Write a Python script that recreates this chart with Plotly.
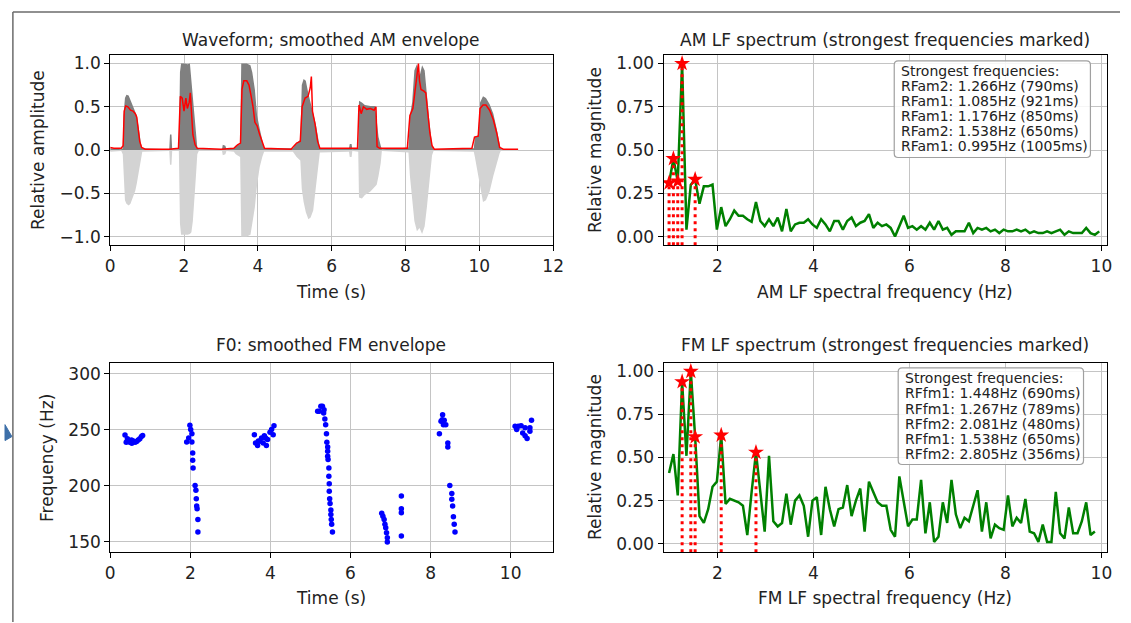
import numpy as np
import plotly.graph_objects as go

W, H = 1131, 623
FONT = "DejaVu Sans"

# ---------------- data ----------------
# waveform envelope breakpoints (time s, positive peak, negative peak)
WAVE_T = [0.00, 0.30, 0.34, 0.36, 0.40, 0.44, 0.50, 0.55, 0.62, 0.68, 0.72, 0.78, 0.83, 0.87,
          1.60, 1.62, 1.66, 1.68, 1.86, 1.89, 1.92, 2.00, 2.10, 2.16, 2.20, 2.24, 2.28, 2.32, 2.36, 2.40,
          3.03, 3.05, 3.12, 3.15, 3.35, 3.40, 3.52, 3.55, 3.70, 3.80, 3.85, 3.92, 3.98, 4.05, 4.12, 4.17,
          4.95, 5.05, 5.15, 5.19, 5.24, 5.30, 5.37, 5.43, 5.50, 5.57, 5.63, 5.68,
          6.47, 6.49, 6.54, 6.56, 6.72, 6.74, 6.82, 6.90, 7.05, 7.18, 7.22, 7.27, 7.33, 7.36,
          7.85, 8.08, 8.12, 8.18, 8.24, 8.31, 8.38, 8.45, 8.52, 8.58, 8.65, 8.72, 8.76,
          9.85, 9.88, 9.97, 10.02, 10.10, 10.18, 10.28, 10.38, 10.47, 10.55, 10.58, 11.05]
WAVE_POS = [0.02, 0.01, 0.02, 0.40, 0.60, 0.64, 0.63, 0.58, 0.51, 0.45, 0.40, 0.24, 0.08, 0.02,
            0.01, 0.18, 0.18, 0.01, 0.01, 0.90, 1.00, 1.00, 0.99, 1.00, 0.80, 0.55, 0.35, 0.20, 0.03, 0.01,
            0.01, 0.06, 0.05, 0.01, 0.02, 0.05, 0.07, 1.00, 1.00, 0.98, 0.90, 0.70, 0.40, 0.25, 0.10, 0.02,
            0.02, 0.08, 0.12, 0.75, 0.82, 0.80, 0.65, 0.55, 0.45, 0.30, 0.15, 0.02,
            0.02, 0.07, 0.07, 0.01, 0.02, 0.57, 0.55, 0.52, 0.51, 0.51, 0.35, 0.15, 0.05, 0.01,
            0.02, 0.03, 0.40, 0.55, 0.92, 0.99, 0.85, 0.98, 0.92, 0.62, 0.32, 0.06, 0.01,
            0.02, 0.15, 0.17, 0.55, 0.62, 0.60, 0.53, 0.42, 0.25, 0.05, 0.01, 0.01]
WAVE_NEG = [-0.02, -0.01, -0.05, -0.30, -0.58, -0.62, -0.64, -0.62, -0.55, -0.47, -0.39, -0.22, -0.08, -0.02,
            -0.01, -0.17, -0.17, -0.01, -0.01, -0.85, -0.98, -0.98, -0.98, -0.97, -0.95, -0.82, -0.62, -0.32, -0.05, -0.01,
            -0.01, -0.06, -0.05, -0.01, -0.02, -0.05, -0.08, -1.00, -1.00, -0.98, -0.85, -0.66, -0.40, -0.20, -0.08, -0.02,
            -0.02, -0.08, -0.12, -0.45, -0.60, -0.72, -0.80, -0.78, -0.70, -0.45, -0.20, -0.03,
            -0.02, -0.08, -0.08, -0.01, -0.02, -0.55, -0.56, -0.52, -0.48, -0.42, -0.40, -0.30, -0.15, -0.01,
            -0.02, -0.03, -0.30, -0.60, -0.82, -0.94, -0.90, -0.97, -0.88, -0.66, -0.32, -0.06, -0.01,
            -0.02, -0.08, -0.30, -0.45, -0.60, -0.58, -0.48, -0.30, -0.15, -0.04, -0.01, -0.01]

# smoothed AM envelope
ENV_T = [0.00, 0.10, 0.30, 0.35, 0.38, 0.42, 0.48, 0.55, 0.62, 0.68, 0.72, 0.76, 0.80, 0.85, 0.95,
         1.60, 1.85, 1.90, 1.95, 2.00, 2.05, 2.09, 2.14, 2.17, 2.20, 2.24, 2.30, 2.36,
         3.00, 3.35, 3.45, 3.53, 3.57, 3.62, 3.70, 3.76, 3.82, 3.87, 3.92, 3.98, 4.05, 4.12, 4.18,
         4.90, 5.05, 5.15, 5.20, 5.28, 5.36, 5.42, 5.45, 5.48, 5.55, 5.62, 5.68,
         6.70, 6.74, 6.80, 6.86, 6.95, 7.05, 7.15, 7.20, 7.23, 7.30,
         8.05, 8.12, 8.20, 8.26, 8.32, 8.35, 8.38, 8.42, 8.50, 8.55, 8.60, 8.66, 8.72, 8.78,
         9.80, 9.87, 9.97, 10.02, 10.10, 10.18, 10.28, 10.38, 10.47, 10.55, 10.65, 11.05]
ENV_V = [0.03, 0.02, 0.02, 0.05, 0.45, 0.51, 0.50, 0.46, 0.45, 0.42, 0.38, 0.22, 0.10, 0.03, 0.01,
         0.01, 0.02, 0.62, 0.60, 0.45, 0.60, 0.48, 0.55, 0.66, 0.40, 0.18, 0.06, 0.02,
         0.01, 0.02, 0.06, 0.08, 0.70, 0.80, 0.80, 0.75, 0.62, 0.50, 0.32, 0.28, 0.18, 0.08, 0.02,
         0.01, 0.08, 0.10, 0.50, 0.60, 0.62, 0.72, 0.85, 0.45, 0.30, 0.10, 0.02,
         0.02, 0.52, 0.42, 0.50, 0.47, 0.48, 0.46, 0.50, 0.04, 0.02,
         0.02, 0.40, 0.48, 0.70, 0.90, 1.00, 0.80, 0.70, 0.68, 0.66, 0.45, 0.20, 0.05, 0.01,
         0.02, 0.15, 0.16, 0.48, 0.52, 0.52, 0.46, 0.35, 0.20, 0.03, 0.01, 0.01]

# AM low-frequency spectrum (bins from 0.995 Hz, spacing 1/11.05 Hz)
SPEC_F0 = 0.995
SPEC_DF = 0.0905
AM_MAG = [0.31, 0.45, 0.32, 1.00, 0.04, 0.30, 0.33, 0.19, 0.29, 0.29, 0.30,
          0.04, 0.17, 0.06, 0.10, 0.15, 0.12, 0.12, 0.10, 0.085, 0.20,
          0.09, 0.06, 0.10, 0.06, 0.11, 0.03, 0.16, 0.03, 0.07, 0.08,
          0.08, 0.10, 0.07, 0.05, 0.10, 0.07, 0.03, 0.09, 0.09, 0.04,
          0.09, 0.11, 0.06, 0.08, 0.09, 0.13, 0.05, 0.08, 0.06, 0.07,
          0.05, 0.00, 0.06, 0.12, 0.05, 0.06, 0.04, 0.06, 0.04, 0.08,
          0.04, 0.09, 0.04, 0.05, 0.01, 0.03, 0.03, 0.03, 0.08, 0.02,
          0.05, 0.04, 0.05, 0.03, 0.04, 0.02, 0.04, 0.03, 0.03, 0.04,
          0.03, 0.04, 0.02, 0.03, 0.02, 0.02, 0.03, 0.02, 0.03, 0.04,
          0.01, 0.03, 0.02, 0.02, 0.02, 0.05, 0.02, 0.01, 0.03]
AM_PEAK_NAMES = ["RFam2", "RFam1", "RFam1", "RFam2", "RFam1"]
AM_PEAK_F = [1.266, 1.085, 1.176, 1.538, 0.995]
AM_PEAK_MS = [790, 921, 850, 650, 1005]

# FM low-frequency spectrum
FM_MAG = [0.41, 0.52, 0.28, 0.94, 0.51, 1.00, 0.62, 0.16, 0.12, 0.20,
          0.33, 0.36, 0.63, 0.23, 0.26, 0.25, 0.24, 0.22, 0.05, 0.30,
          0.53, 0.30, 0.07, 0.51, 0.13, 0.10, 0.12, 0.29, 0.11, 0.25,
          0.28, 0.22, 0.04, 0.25, 0.27, 0.05, 0.33, 0.20, 0.10, 0.20,
          0.21, 0.34, 0.16, 0.25, 0.32, 0.07, 0.36, 0.30, 0.24, 0.22,
          0.22, 0.08, 0.04, 0.39, 0.25, 0.10, 0.14, 0.14, 0.37, 0.06,
          0.24, 0.01, 0.04, 0.24, 0.12, 0.37, 0.17, 0.09, 0.15, 0.13,
          0.22, 0.31, 0.07, 0.24, 0.03, 0.11, 0.09, 0.08, 0.28, 0.10,
          0.15, 0.12, 0.26, 0.07, 0.06, 0.01, 0.11, 0.01, 0.01, 0.30,
          0.06, 0.03, 0.21, 0.06, 0.06, 0.13, 0.24, 0.05, 0.07]
FM_PEAK_NAMES = ["RFfm1", "RFfm1", "RFfm2", "RFfm1", "RFfm2"]
FM_PEAK_F = [1.448, 1.267, 2.081, 1.538, 2.805]
FM_PEAK_MS = [690, 789, 480, 650, 356]

# F0 contour points
F0_T = [0.37, 0.40, 0.43, 0.45, 0.49, 0.53, 0.54, 0.58, 0.62, 0.66, 0.70, 0.74, 0.78, 0.81,
        1.91, 1.96, 1.99, 2.01, 2.04, 2.04, 2.06, 2.06, 2.07, 2.12, 2.14, 2.15, 2.16, 2.17, 2.19, 2.19,
        3.60, 3.63, 3.68, 3.70, 3.74, 3.78, 3.82, 3.85, 3.88, 3.90, 3.93, 3.99, 4.03, 4.07, 4.09,
        5.18, 5.22, 5.26, 5.30, 5.33, 5.34, 5.36, 5.38, 5.40, 5.41, 5.43, 5.43, 5.43, 5.44, 5.46, 5.46,
        5.47, 5.47, 5.48, 5.49, 5.51, 5.51, 5.52, 5.53, 5.55,
        6.78, 6.81, 6.84, 6.86, 6.88, 6.90, 6.92, 6.92, 7.27, 7.27, 7.27, 7.27,
        8.22, 8.26, 8.29, 8.30, 8.32, 8.34, 8.38, 8.43, 8.43, 8.48, 8.53, 8.53, 8.55, 8.57, 8.59, 8.61,
        10.11, 10.15, 10.19, 10.26, 10.30, 10.36, 10.36, 10.41, 10.48, 10.48, 10.52]
F0_HZ = [245.5, 239, 242, 240, 239, 241, 238, 240, 239, 239.5, 241, 242, 244, 245,
         239.2, 242.8, 254, 250.2, 246.6, 239.2, 229.4, 222.9, 216, 200.4, 196.2, 188.5, 182, 179.6, 170.1, 158.8,
         245.7, 238.3, 236, 240, 239.8, 242.8, 238.3, 244.8, 242.8, 236, 241.3, 247.8, 250.2, 245.7, 253.7,
         266.5, 266.5, 271, 271, 265, 268, 259.7, 254.6, 246.6, 238.9, 234.8, 230.9, 226.5, 223.5, 216, 208.7,
         202, 195.3, 188.5, 184.3, 178.4, 174.4, 170.1, 165.7, 158.8,
         175.5, 173, 170, 165.7, 162.7, 158.2, 153.8, 150, 190.9, 179.6, 176, 155.3,
         246.6, 257.6, 259, 263.5, 254.6, 258.5, 254.6, 238.3, 234.8, 200.4, 193.2, 188, 182, 172.5, 165.7, 158.8,
         253.1, 250.2, 253.1, 253.7, 247.2, 244.8, 251.8, 242.2, 248.7, 251.8, 258.5]

# ---------------- derived ----------------
AM_F = SPEC_F0 + SPEC_DF * np.arange(len(AM_MAG))
FM_F = SPEC_F0 + SPEC_DF * np.arange(len(FM_MAG))


def peak_vals(freqs, mags, peaks):
    out = []
    for p in peaks:
        i = int(np.argmin(np.abs(freqs - p)))
        out.append(mags[i])
    return out


AM_PEAK_V = peak_vals(AM_F, AM_MAG, AM_PEAK_F)
FM_PEAK_V = peak_vals(FM_F, FM_MAG, FM_PEAK_F)

# ---------------- layout helpers ----------------
def px_x(p):
    return p / W


def px_y(p):
    return 1 - p / H


XL = [px_x(106.7), px_x(556)]
XR = [px_x(668), px_x(1118)]
YT = [px_y(245), px_y(54)]
YB = [px_y(553), px_y(363)]

fig = go.Figure()

# --- top-left: waveform ---
fig.add_trace(go.Scatter(x=WAVE_T, y=WAVE_NEG, mode="lines", line=dict(width=0, color="#d3d3d3"),
                         fill="tozeroy", fillcolor="#d3d3d3", xaxis="x", yaxis="y", hoverinfo="skip"))
fig.add_trace(go.Scatter(x=WAVE_T, y=WAVE_POS, mode="lines", line=dict(width=0, color="#808080"),
                         fill="tozeroy", fillcolor="#808080", xaxis="x", yaxis="y", hoverinfo="skip"))
fig.add_trace(go.Scatter(x=ENV_T, y=ENV_V, mode="lines", line=dict(width=1.5, color="red"),
                         xaxis="x", yaxis="y"))

# --- top-right: AM spectrum ---
fig.add_trace(go.Scatter(x=AM_F, y=AM_MAG, mode="lines", line=dict(width=2.5, color="green"),
                         xaxis="x2", yaxis="y2"))
vx, vy = [], []
for f, v in zip(AM_PEAK_F, AM_PEAK_V):
    vx += [f, f, None]
    vy += [-0.05, v, None]
fig.add_trace(go.Scatter(x=vx, y=vy, mode="lines", line=dict(width=3, color="red", dash="3px,4px"),
                         xaxis="x2", yaxis="y2"))
fig.add_trace(go.Scatter(x=AM_PEAK_F, y=AM_PEAK_V, mode="markers",
                         marker=dict(symbol="star", size=12, color="red", line=dict(width=0)),
                         xaxis="x2", yaxis="y2"))

# --- bottom-left: F0 ---
fig.add_trace(go.Scatter(x=F0_T, y=F0_HZ, mode="markers", marker=dict(size=5.5, color="blue", line=dict(width=0)),
                         xaxis="x3", yaxis="y3"))

# --- bottom-right: FM spectrum ---
fig.add_trace(go.Scatter(x=FM_F, y=FM_MAG, mode="lines", line=dict(width=2.5, color="green"),
                         xaxis="x4", yaxis="y4"))
vx, vy = [], []
for f, v in zip(FM_PEAK_F, FM_PEAK_V):
    vx += [f, f, None]
    vy += [-0.05, v, None]
fig.add_trace(go.Scatter(x=vx, y=vy, mode="lines", line=dict(width=3, color="red", dash="3px,4px"),
                         xaxis="x4", yaxis="y4"))
fig.add_trace(go.Scatter(x=FM_PEAK_F, y=FM_PEAK_V, mode="markers",
                         marker=dict(symbol="star", size=12, color="red", line=dict(width=0)),
                         xaxis="x4", yaxis="y4"))

TICKFONT = dict(family=FONT, size=17, color="#222")
common = dict(showline=True, linecolor="black", linewidth=1, mirror=True, ticks="outside",
              ticklen=5, tickcolor="black", showgrid=True, gridcolor="#c4c4c4", gridwidth=1,
              zeroline=False, tickfont=TICKFONT)

fig.update_layout(
    width=W, height=H, margin=dict(l=0, r=0, t=0, b=0), showlegend=False,
    paper_bgcolor="white", plot_bgcolor="white",
    xaxis=dict(domain=XL, range=[0, 12], tickvals=[0, 2, 4, 6, 8, 10, 12], anchor="y", **common),
    yaxis=dict(domain=YT, range=[-1.1, 1.1], tickvals=[-1, -0.5, 0, 0.5, 1], tickformat=".1f",
               anchor="x", **common),
    xaxis2=dict(domain=XR, range=[0.88, 10.12], tickvals=[2, 4, 6, 8, 10], anchor="y2", **common),
    yaxis2=dict(domain=YT, range=[-0.05, 1.05], tickvals=[0, 0.25, 0.5, 0.75, 1.0], tickformat=".2f",
                anchor="x2", **common),
    xaxis3=dict(domain=XL, range=[0, 11.06], tickvals=[0, 2, 4, 6, 8, 10], anchor="y3", **common),
    yaxis3=dict(domain=YB, range=[140.8, 309.8], tickvals=[150, 200, 250, 300], anchor="x3", **common),
    xaxis4=dict(domain=XR, range=[0.88, 10.12], tickvals=[2, 4, 6, 8, 10], anchor="y4", **common),
    yaxis4=dict(domain=YB, range=[-0.05, 1.05], tickvals=[0, 0.25, 0.5, 0.75, 1.0], tickformat=".2f",
                anchor="x4", **common),
)

ann = []


def text(x, y, s, size=17, angle=0, xanchor="center"):
    ann.append(dict(x=px_x(x), y=px_y(y), xref="paper", yref="paper", text=s, showarrow=False,
                    textangle=angle, xanchor=xanchor, yanchor="middle",
                    font=dict(family=FONT, size=size, color="#222")))


# titles
text(331, 39, "Waveform; smoothed AM envelope")
text(893, 39, "AM LF spectrum (strongest frequencies marked)")
text(331, 345, "F0: smoothed FM envelope")
text(893, 345, "FM LF spectrum (strongest frequencies marked)")
# axis titles
text(331, 292, "Time (s)")
text(893, 292, "AM LF spectral frequency (Hz)")
text(331, 599, "Time (s)")
text(893, 599, "FM LF spectral frequency (Hz)")
text(33, 150, "Relative amplitude", angle=-90)
text(598, 150, "Relative magnitude", angle=-90)
text(42, 458, "Frequency (Hz)", angle=-90)
text(598, 458, "Relative magnitude", angle=-90)

# text boxes
shapes = []


def rbox(x0, y0, x1, y1, r=4):
    path = (f"M {px_x(x0 + r)},{px_y(y0)} L {px_x(x1 - r)},{px_y(y0)} "
            f"Q {px_x(x1)},{px_y(y0)} {px_x(x1)},{px_y(y0 + r)} L {px_x(x1)},{px_y(y1 - r)} "
            f"Q {px_x(x1)},{px_y(y1)} {px_x(x1 - r)},{px_y(y1)} L {px_x(x0 + r)},{px_y(y1)} "
            f"Q {px_x(x0)},{px_y(y1)} {px_x(x0)},{px_y(y1 - r)} L {px_x(x0)},{px_y(y0 + r)} "
            f"Q {px_x(x0)},{px_y(y0)} {px_x(x0 + r)},{px_y(y0)} Z")
    shapes.append(dict(type="path", path=path, xref="paper", yref="paper",
                       line=dict(color="#a0a0a0", width=1.2), fillcolor="rgba(255,255,255,0.85)",
                       layer="above"))


rbox(902, 60, 1101, 157)
am_lines = ["Strongest frequencies:"] + [f"{n}: {f:.3f}Hz ({m}ms)" for n, f, m in
                                         zip(AM_PEAK_NAMES, AM_PEAK_F, AM_PEAK_MS)]
for i, s in enumerate(am_lines):
    text(906.5, 70 + 15.1 * i, s, size=14, xanchor="left")

rbox(906, 368, 1094, 465)
fm_lines = ["Strongest frequencies:"] + [f"{n}: {f:.3f}Hz ({m}ms)" for n, f, m in
                                         zip(FM_PEAK_NAMES, FM_PEAK_F, FM_PEAK_MS)]
for i, s in enumerate(fm_lines):
    text(910.5, 378.5 + 15.2 * i, s, size=14, xanchor="left")

# window frame
shapes.append(dict(type="line", xref="paper", yref="paper", x0=px_x(8), y0=px_y(11), x1=1, y1=px_y(11),
                   line=dict(color="#6b6b6b", width=1.5)))
shapes.append(dict(type="line", xref="paper", yref="paper", x0=px_x(8), y0=px_y(11), x1=px_x(8), y1=0,
                   line=dict(color="#6b6b6b", width=1.5)))
shapes.append(dict(type="path", xref="paper", yref="paper",
                   path=f"M {px_x(0)},{px_y(425)} L {px_x(7)},{px_y(437)} L {px_x(0)},{px_y(441)} Z",
                   line=dict(color="#3d6fa8", width=1), fillcolor="#3d6fa8"))

fig.update_layout(annotations=ann, shapes=shapes)
fig.write_html("out.html", config={"displayModeBar": False},
               post_script="document.body.style.margin='0';document.body.style.padding='0';"
                           "document.documentElement.style.overflow='hidden';")
